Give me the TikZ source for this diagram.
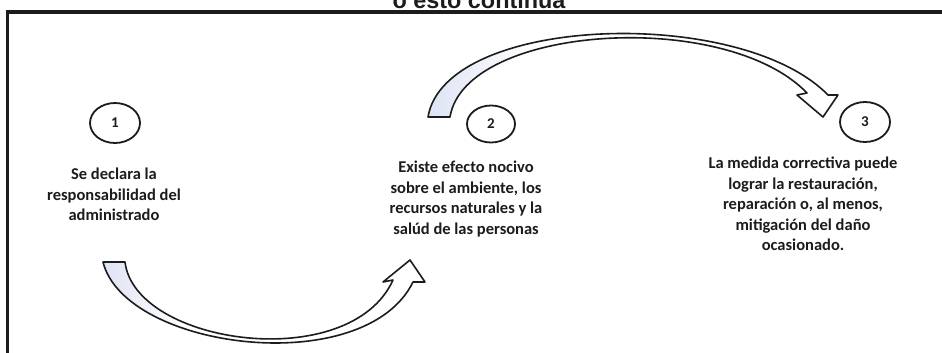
\documentclass[tikz,border=0pt]{standalone}
\usepackage{fontspec}
\setmainfont{Carlito}
\newfontfamily\titlefont{Liberation Sans}
\usetikzlibrary{shapes.geometric}
\definecolor{ink}{RGB}{28,28,28}
\definecolor{tint}{RGB}{222,228,244}
\pgfdeclarehorizontalshading{tailfade}{100bp}{color(0bp)=(tint); color(25bp)=(tint); color(38bp)=(white); color(100bp)=(white)}
\tikzset{
  numcirc/.style={draw=ink, line width=1.8pt, ellipse, inner sep=0pt,
    minimum width=50pt, minimum height=40pt, text=ink,
    font=\bfseries\fontsize{15}{17}\selectfont},
  desc/.style={align=center, text=ink, inner sep=0pt, anchor=north,
    font=\bfseries\fontsize{16.5}{20.5}\selectfont},
  bigarrow/.style={draw=ink, line width=1.6pt, line join=round,
    shading=tailfade}
}
\begin{document}
\begin{tikzpicture}[x=1pt,y=-1pt]
\useasboundingbox (0,0) rectangle (942,353);
\clip (0,0) rectangle (942,353);
\fill[white] (0,0) rectangle (942,353);
% frame
\draw[ink, line width=3.5pt] (7.5,360) -- (7.5,12) -- (950,12);
% title (cut off at top, as in the original)
\node[anchor=base, text=ink, inner sep=0pt, font=\titlefont\bfseries\fontsize{23.4}{28}\selectfont] (title) at (479,8.5) {o esto continúa};
% circles
\node[numcirc] (c1) at (115,123) {1};
\node[numcirc, minimum width=48pt, minimum height=37pt] (c2) at (491,124) {2};
\node[numcirc] (c3) at (865,122) {3};
% texts
\node[desc] (t1) at (114,168) {Se declara la\\responsabilidad del\\administrado};
\node[desc] (t2) at (466,161) {Existe efecto nocivo\\sobre el ambiente, los\\recursos naturales y la\\salúd de las personas};
\node[desc] (t3) at (803,157) {La medida correctiva puede\\lograr la restauración,\\reparación o, al menos,\\mitigación del daño\\ocasionado.};
% lower curved arrow
\path[bigarrow] (103,262) .. controls (125,350) and (365,380) .. (413,282)
  -- (425,282) -- (410,260) -- (383,282) -- (393,280)
  .. controls (350,375) and (135,345) .. (125,262) -- cycle;
% upper curved arrow
\path[bigarrow] (428,117) .. controls (445,15) and (740,5) .. (828,95)
  -- (838,95) -- (823,117) -- (797,95) -- (807,93)
  .. controls (725,8) and (465,25) .. (450,117) -- cycle;
\end{tikzpicture}
\end{document}
